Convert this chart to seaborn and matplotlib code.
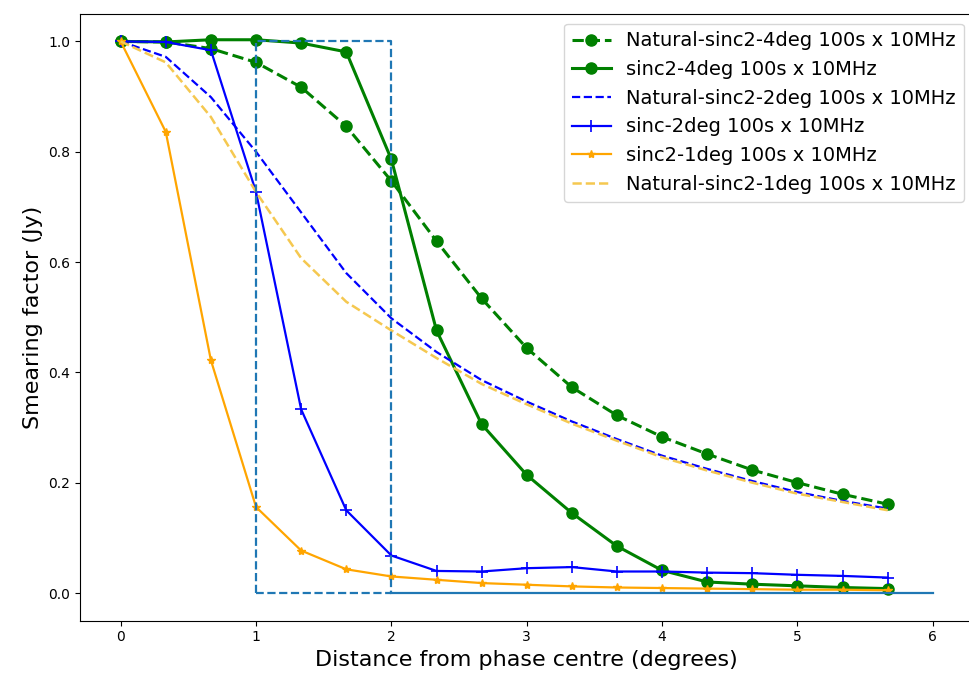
import numpy as np
import pandas as pd
import matplotlib
matplotlib.use("Agg")
import matplotlib.pyplot as plt
import seaborn as sns

# distance from phase centre (degrees), steps of 1/3 deg
distance = [0, 1/3, 2/3, 1, 4/3, 5/3, 2, 7/3, 8/3, 3, 10/3, 11/3, 4, 13/3, 14/3, 5, 16/3, 17/3]

natural_4deg = [1.0, 0.999, 0.987, 0.962, 0.917, 0.846, 0.747, 0.638, 0.534, 0.444,
                0.373, 0.322, 0.283, 0.252, 0.223, 0.200, 0.179, 0.161]
sinc2_4deg = [1.0, 0.999, 1.003, 1.003, 0.997, 0.981, 0.786, 0.476, 0.306, 0.214,
              0.145, 0.085, 0.041, 0.020, 0.016, 0.013, 0.010, 0.008]
natural_2deg = [1.0, 0.972, 0.899, 0.800, 0.690, 0.580, 0.498, 0.437, 0.386, 0.347,
                0.311, 0.279, 0.249, 0.225, 0.203, 0.183, 0.167, 0.153]
sinc_2deg = [1.0, 0.999, 0.984, 0.727, 0.333, 0.150, 0.068, 0.040, 0.039, 0.045,
             0.047, 0.039, 0.039, 0.037, 0.036, 0.033, 0.031, 0.028]
sinc2_1deg = [1.0, 0.836, 0.422, 0.156, 0.077, 0.043, 0.030, 0.024, 0.018, 0.015,
              0.012, 0.010, 0.009, 0.008, 0.007, 0.006, 0.006, 0.005]
natural_1deg = [1.0, 0.962, 0.863, 0.727, 0.607, 0.528, 0.476, 0.426, 0.379, 0.342,
                0.307, 0.276, 0.246, 0.222, 0.200, 0.180, 0.165, 0.150]

# ideal top-hat response between 1 and 2 degrees
box_x = [1, 1, 2, 2, 1]
box_y = [0, 1, 1, 0, 0]
floor_x = [2, 6]
floor_y = [0, 0]

fig = plt.figure(figsize=(9.69, 6.81), dpi=100)
ax = fig.add_axes([0.0826, 0.0887, 0.922, 0.891])

sns.lineplot(x=distance, y=natural_4deg, ax=ax, color='green', linestyle='--', lw=2.2,
             marker='o', ms=8, mec='green', mew=1, label='Natural-sinc2-4deg 100s x 10MHz')
sns.lineplot(x=distance, y=sinc2_4deg, ax=ax, color='green', lw=2.2,
             marker='o', ms=8, mec='green', mew=1, label='sinc2-4deg 100s x 10MHz')
sns.lineplot(x=distance, y=natural_2deg, ax=ax, color='blue', linestyle='--', lw=1.6,
             label='Natural-sinc2-2deg 100s x 10MHz')
sns.lineplot(x=distance, y=sinc_2deg, ax=ax, color='blue', lw=1.6,
             marker='+', ms=9, mec='blue', mew=1.2, label='sinc-2deg 100s x 10MHz')
sns.lineplot(x=distance, y=sinc2_1deg, ax=ax, color='orange', lw=1.6,
             marker='*', ms=6, mec='orange', mew=1, label='sinc2-1deg 100s x 10MHz')
sns.lineplot(x=distance, y=natural_1deg, ax=ax, color='#f5c850', linestyle='--', lw=1.8,
             label='Natural-sinc2-1deg 100s x 10MHz')

ax.plot(box_x, box_y, color='#1f77b4', linestyle='--', lw=1.6)
ax.plot(floor_x, floor_y, color='#1f77b4', lw=1.6)

ax.set_xlim(-0.3, 6.3)
ax.set_ylim(-0.05, 1.05)
ax.set_xlabel('Distance from phase centre (degrees)', fontsize=16)
ax.set_ylabel('Smearing factor (Jy)', fontsize=16)
ax.legend(loc='upper right', fontsize=14)

fig.savefig('out.png', dpi=100)
